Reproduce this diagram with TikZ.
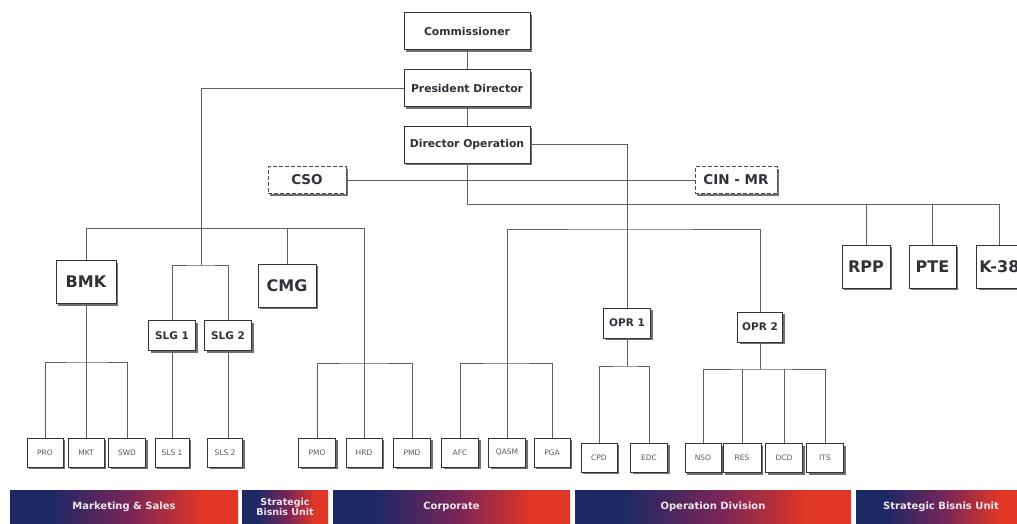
\documentclass[tikz,border=0pt]{standalone}
\usepackage{fontspec}
\setmainfont{DejaVu Sans}
\usetikzlibrary{shadows}
\definecolor{navyc}{RGB}{30,40,100}
\definecolor{purpc}{RGB}{118,38,88}
\definecolor{redc}{RGB}{224,54,38}
\definecolor{linec}{RGB}{95,95,95}
\definecolor{txtc}{RGB}{48,50,56}
\definecolor{smtxt}{RGB}{90,90,95}
\definecolor{bartxt}{RGB}{238,228,236}
\pgfdeclarehorizontalshading{navred}{100bp}{color(0bp)=(navyc); color(25bp)=(navyc); color(34bp)=(navyc); color(51bp)=(purpc); color(67bp)=(redc); color(75bp)=(redc); color(100bp)=(redc)}
\tikzset{
  box/.style={draw=black!80, line width=0.8pt, fill=white, text=txtc, inner sep=0pt, align=center,
    drop shadow={shadow xshift=2.2pt, shadow yshift=-2.2pt, fill=black!70, opacity=0.8}},
  topbox/.style={box, minimum width=126pt, minimum height=37pt, font=\fontsize{10.8}{12}\selectfont\bfseries},
  dbox/.style={box, dash pattern=on 4pt off 2pt, draw=black!70, minimum height=27pt, font=\fontsize{13.5}{15}\selectfont\bfseries},
  bigbox/.style={box, minimum height=43pt, font=\fontsize{16}{18}\selectfont\bfseries},
  midbox/.style={box, minimum height=30pt, font=\fontsize{10.5}{12}\selectfont\bfseries},
  sbox/.style={box, minimum width=36pt, minimum height=29pt, text=smtxt, font=\fontsize{7.5}{8}\selectfont},
  conn/.style={draw=linec, line width=0.9pt},
  bar/.style={shading=navred, inner sep=0pt, minimum height=34pt, text=bartxt, align=center,
    font=\fontsize{10}{11}\selectfont\bfseries}
}
\begin{document}
\begin{tikzpicture}[x=1pt,y=-1pt]
\useasboundingbox (0,0) rectangle (1017,523);
\clip (0,0) rectangle (1017,523);
\fill[white] (0,0) rectangle (1017,523);
% top
\node[topbox] (comm) at (467,31) {Commissioner};
\node[topbox] (pd) at (467,88) {President Director};
\node[topbox] (do) at (467,144.5) {Director Operation};
\node[dbox, minimum width=78pt] (cso) at (307,180) {CSO};
\node[dbox, minimum width=82pt] (cin) at (736,180) {CIN - MR};
% second level
\node[bigbox, minimum width=60pt] (bmk) at (86,282) {BMK};
\node[bigbox, minimum width=58pt] (cmg) at (287,285.5) {CMG};
\node[midbox, minimum width=47pt] (slg1) at (172,335.5) {SLG 1};
\node[midbox, minimum width=47pt] (slg2) at (228,335.5) {SLG 2};
\node[bigbox, minimum width=48pt] (rpp) at (866,266.5) {RPP};
\node[bigbox, minimum width=47pt] (pte) at (932.5,266.5) {PTE};
\node[bigbox, inner xsep=2pt, minimum width=52pt, anchor=west, align=left] (k38) at (976,266.5) {K-38\hspace{6pt}};
\node[midbox, minimum width=47pt] (opr1) at (627,323) {OPR 1};
\node[midbox, minimum width=45pt] (opr2) at (760,327) {OPR 2};
% bottom row
\node[sbox] (pro) at (45,452.5) {PRO};
\node[sbox] (mkt) at (86,452.5) {MKT};
\node[sbox, minimum width=37pt] (swd) at (127,452.5) {SWD};
\node[sbox, minimum width=34pt] (sls1) at (172,452.5) {SLS 1};
\node[sbox, minimum width=35pt] (sls2) at (225,452.5) {SLS 2};
\node[sbox, minimum width=37pt] (pmo) at (317,452.5) {PMO};
\node[sbox] (hrd) at (364,452.5) {HRD};
\node[sbox, minimum width=37pt] (pmd) at (412,452.5) {PMD};
\node[sbox, minimum width=37pt] (afc) at (460,452.5) {AFC};
\node[sbox, minimum width=37pt] (qasm) at (507,452.5) {QASM};
\node[sbox] (pga) at (552,452.5) {PGA};
\node[sbox] (cpd) at (599,457.5) {CPD};
\node[sbox, minimum width=37pt] (edc) at (649,457.5) {EDC};
\node[sbox] (nso) at (703,458) {NSO};
\node[sbox, minimum width=38pt] (res) at (742,458) {RES};
\node[sbox, minimum width=37pt] (dcd) at (784,458) {DCD};
\node[sbox, minimum width=37pt] (its) at (825,458) {ITS};
% connectors
\draw[conn] (comm.south) -- (pd.north);
\draw[conn] (pd.south) -- (do.north);
\coordinate (slgb) at (201,265);
\draw[conn] (pd.west) -| (slgb);
\draw[conn] (slg1.north) |- (slgb) -| (slg2.north);
\coordinate (corpR) at (364,228);
\draw[conn] (bmk.north) |- (corpR) -- (hrd.north);
\draw[conn] (cmg.north) -- (cmg.north |- corpR);
\coordinate (hb) at (364,363);
\draw[conn] (pmo.north) |- (hb) -| (pmd.north);
\draw[conn] (bmk.south) -- (mkt.north);
\coordinate (bb) at (86,362);
\draw[conn] (pro.north) |- (bb) -| (swd.north);
\draw[conn] (slg1.south) -- (sls1.north);
\draw[conn] (slg2.south) -- (slg2.south |- sls2.north);
\draw[conn] (do.east) -| (opr1.north);
\coordinate (ob) at (627,229);
\draw[conn] (qasm.north) |- (ob) -| (opr2.north);
\coordinate (ab) at (507,363);
\draw[conn] (afc.north) |- (ab) -| (pga.north);
\coordinate (o1b) at (627,366);
\draw[conn] (opr1.south) -- (o1b);
\draw[conn] (cpd.north) |- (o1b) -| (edc.north);
\coordinate (o2b) at (760,369);
\draw[conn] (opr2.south) -- (o2b);
\draw[conn] (nso.north) |- (o2b) -| (its.north);
\draw[conn] (res.north) -- (res.north |- o2b);
\draw[conn] (dcd.north) -- (dcd.north |- o2b);
\coordinate (kb) at (999,204);
\draw[conn] (do.south) |- (kb) -- (kb |- k38.north);
\draw[conn] (rpp.north) -- (rpp.north |- kb);
\draw[conn] (pte.north) -- (pte.north |- kb);
\draw[conn] (cso.east) -- (cin.west);
% bars
\node[bar, minimum width=228pt] (b1) at (124,507) {Marketing \& Sales};
\node[bar, minimum width=86pt, font=\fontsize{9.5}{10.5}\selectfont\bfseries] (b2) at (285,507) {Strategic\\Bisnis Unit};
\node[bar, minimum width=237pt] (b3) at (451.5,507) {Corporate};
\node[bar, minimum width=276pt] (b4) at (713,507) {Operation Division};
\node[bar, minimum width=170pt] (b5) at (941,507) {Strategic Bisnis Unit};
\end{tikzpicture}
\end{document}
